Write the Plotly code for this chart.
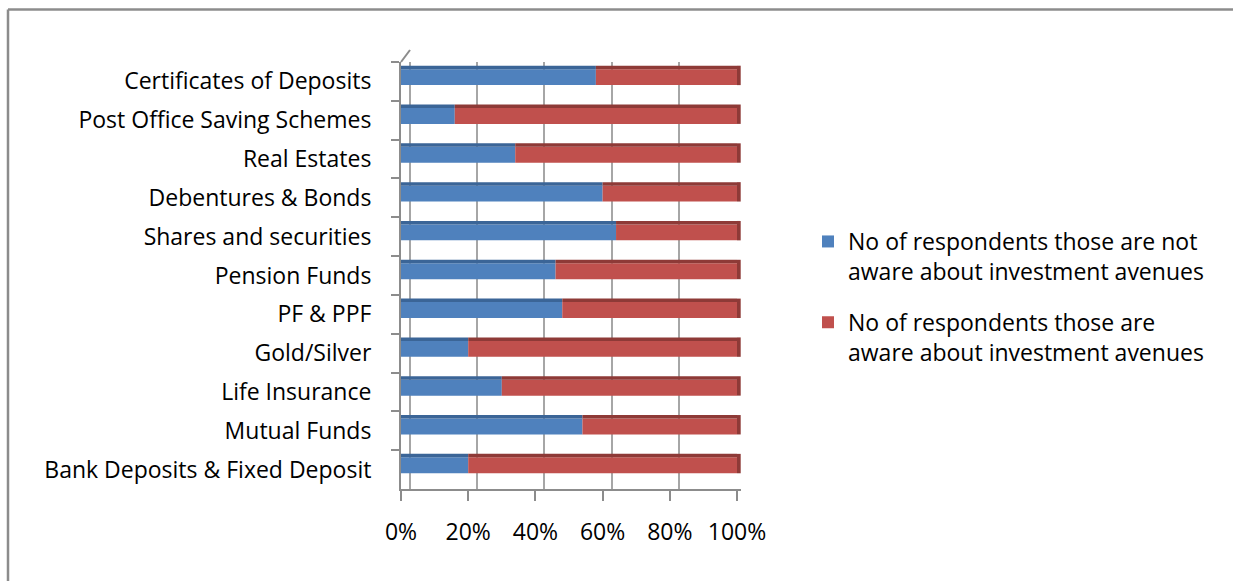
import plotly.graph_objects as go

categories = ["Bank Deposits & Fixed Deposit", "Mutual Funds", "Life Insurance", "Gold/Silver",
              "PF & PPF", "Pension Funds", "Shares and securities", "Debentures & Bonds",
              "Real Estates", "Post Office Saving Schemes", "Certificates of Deposits"]
not_aware = [20, 54, 30, 20, 48, 46, 64, 60, 34, 16, 58]
aware = [80, 46, 70, 80, 52, 54, 36, 40, 66, 84, 42]
x_ticks = [0, 20, 40, 60, 80, 100]
x_ticktext = ["0%", "20%", "40%", "60%", "80%", "100%"]
series_names = ["No of respondents those are not<br>aware about investment avenues",
                "No of respondents those are<br>aware about investment avenues"]

BLUE, RED = "#4F81BD", "#C0504D"
BLUE_TOP, RED_TOP = "#3B6597", "#8E3A37"
FONT = "Open Sans"
FS = 23
W, H = 1233, 581

face_off, face_w = -0.095, 0.41
top_off, top_w = 0.315, 0.09

totals = [a + b for a, b in zip(not_aware, aware)]
XMAX = 101.2
x_left, x_right = 401, 401 + 336 * XMAX / 100

fig = go.Figure()
# front faces
fig.add_trace(go.Bar(y=categories, x=not_aware, base=[0] * len(categories), orientation="h",
                     marker=dict(color=BLUE, line=dict(width=0)), offset=face_off, width=face_w,
                     name=series_names[0], legendgroup="a"))
fig.add_trace(go.Bar(y=categories, x=aware, base=not_aware, orientation="h",
                     marker=dict(color=RED, line=dict(width=0)), offset=face_off, width=face_w,
                     name=series_names[1], legendgroup="b"))
# top faces (3-D look)
fig.add_trace(go.Bar(y=categories, x=not_aware, base=[0] * len(categories), orientation="h",
                     marker=dict(color=BLUE_TOP, line=dict(width=0)), offset=top_off, width=top_w,
                     showlegend=False, hoverinfo="skip"))
fig.add_trace(go.Bar(y=categories, x=aware, base=not_aware, orientation="h",
                     marker=dict(color=RED_TOP, line=dict(width=0)), offset=top_off, width=top_w,
                     showlegend=False, hoverinfo="skip"))
# right end caps
fig.add_trace(go.Bar(y=categories, x=[1.1] * len(categories), base=totals, orientation="h",
                     marker=dict(color=RED_TOP, line=dict(width=0)), offset=face_off,
                     width=face_w + top_w, showlegend=False, hoverinfo="skip"))
# invisible trace to carry back-wall grid axis
fig.add_trace(go.Scatter(x=[0, 100], y=[categories[0], categories[0]], xaxis="x2", mode="markers",
                         marker=dict(opacity=0), showlegend=False, hoverinfo="skip"))

fig.update_layout(
    width=W, height=H,
    margin=dict(l=0, r=0, t=0, b=0, autoexpand=False),
    paper_bgcolor="white", plot_bgcolor="rgba(0,0,0,0)",
    barmode="overlay",
    font=dict(family=FONT, size=FS, color="black"),
    xaxis=dict(domain=[x_left / W, x_right / W], range=[0, XMAX], tickvals=x_ticks,
               ticktext=x_ticktext,
               showgrid=False, zeroline=False, showline=True, linecolor="#8c8c8c", linewidth=2,
               ticks="outside", ticklen=10, tickwidth=2, tickcolor="#8c8c8c",
               ticklabelstandoff=11, tickfont=dict(size=FS, color="black")),
    xaxis2=dict(overlaying="x", anchor="y", range=[-2.68, XMAX - 2.68], tickvals=x_ticks,
                showticklabels=False, showgrid=True, gridcolor="#a6a6a6", gridwidth=2,
                zeroline=False, showline=False, ticks=""),
    yaxis=dict(domain=[(H - 489) / H, (H - 62) / H], type="category", categoryorder="array",
               categoryarray=categories, range=[-0.5, 10.5], tickson="boundaries",
               showgrid=False, zeroline=False, showline=True, linecolor="#8c8c8c", linewidth=2,
               ticks="outside", ticklen=8, tickwidth=2, tickcolor="#8c8c8c",
               ticklabelstandoff=23, tickfont=dict(size=FS, color="black")),
    legend=dict(x=808 / W, y=(H - 220) / H, xanchor="left", yanchor="top", valign="top",
                font=dict(size=FS, color="black"), itemwidth=30, tracegroupgap=18,
                bgcolor="rgba(0,0,0,0)"),
    shapes=[
        dict(type="line", xref="paper", yref="paper", x0=8 / W, x1=1233 / W, y0=(H - 9.5) / H,
             y1=(H - 9.5) / H, line=dict(color="#8c8c8c", width=2.5)),
        dict(type="line", xref="paper", yref="paper", x0=8 / W, x1=8 / W, y0=0, y1=(H - 9.5) / H,
             line=dict(color="#8c8c8c", width=2.5)),
        dict(type="line", xref="paper", yref="paper", x0=401 / W, x1=410 / W, y0=(H - 62) / H,
             y1=(H - 50) / H, line=dict(color="#8c8c8c", width=2)),
    ],
)

fig.write_html("out.html")
